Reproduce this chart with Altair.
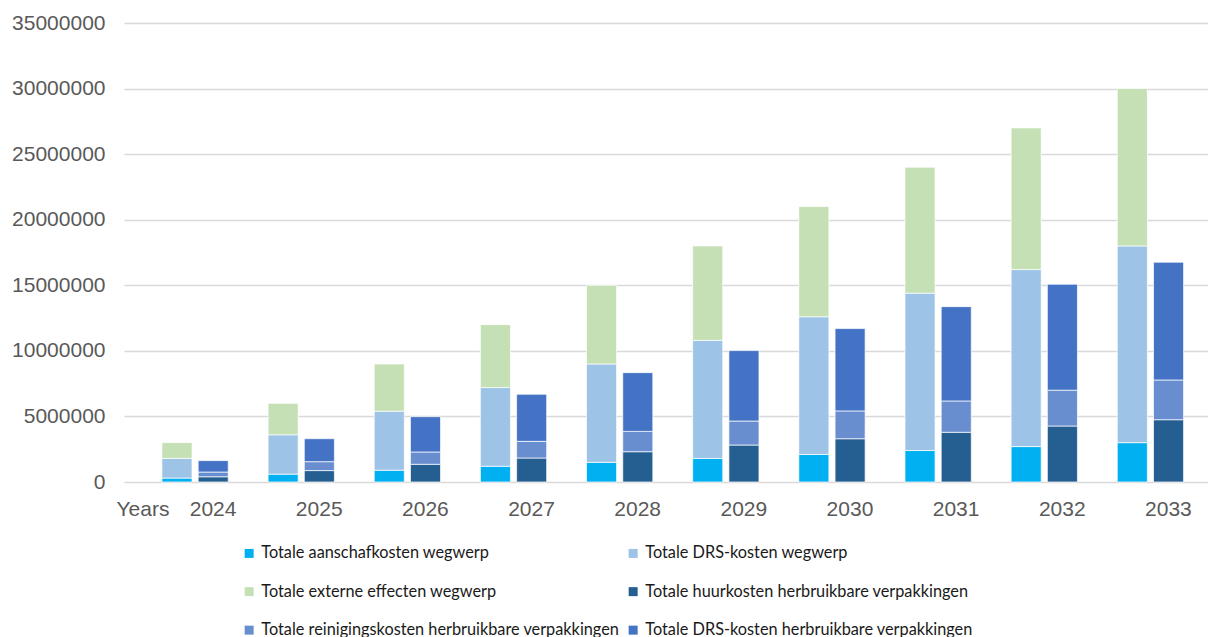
import altair as alt
import pandas as pd

# Yearly cost components (euro)
years = ["2024", "2025", "2026", "2027", "2028", "2029", "2030", "2031", "2032", "2033"]

aanschaf_wegwerp = [300000, 600000, 900000, 1200000, 1500000, 1800000, 2100000, 2400000, 2700000, 3000000]
drs_wegwerp = [1500000, 3000000, 4500000, 6000000, 7500000, 9000000, 10500000, 12000000, 13500000, 15000000]
extern_wegwerp = [1200000, 2400000, 3600000, 4800000, 6000000, 7200000, 8400000, 9600000, 10800000, 12000000]

huur_herbruik = [400000, 870000, 1350000, 1830000, 2310000, 2820000, 3300000, 3790000, 4270000, 4750000]
reiniging_herbruik = [360000, 680000, 940000, 1270000, 1550000, 1830000, 2120000, 2390000, 2730000, 3030000]
drs_herbruik = [870000, 1750000, 2690000, 3590000, 4480000, 5370000, 6280000, 7190000, 8080000, 8980000]

series_names = [
    "Totale aanschafkosten wegwerp",
    "Totale DRS-kosten wegwerp",
    "Totale externe effecten wegwerp",
    "Totale huurkosten herbruikbare verpakkingen",
    "Totale reinigingskosten herbruikbare verpakkingen",
    "Totale DRS-kosten herbruikbare verpakkingen",
]
series_colors = ["#00B0F0", "#9DC3E6", "#C5E0B4", "#255E91", "#698ED0", "#4472C4"]

# (series name, bar group, stack position, values)
series = [
    (series_names[0], "wegwerp", 0, aanschaf_wegwerp),
    (series_names[1], "wegwerp", 1, drs_wegwerp),
    (series_names[2], "wegwerp", 2, extern_wegwerp),
    (series_names[3], "herbruikbaar", 0, huur_herbruik),
    (series_names[4], "herbruikbaar", 1, reiniging_herbruik),
    (series_names[5], "herbruikbaar", 2, drs_herbruik),
]

rows = []
for name, group, pos, vals in series:
    for y, v in zip(years, vals):
        rows.append({"year": y, "group": group, "series": name, "pos": pos, "value": v})
df = pd.DataFrame(rows)

axis_font = "Liberation Sans"
axis_color = "#595959"

chart = (
    alt.Chart(df)
    .mark_bar(stroke="#ffffff", strokeWidth=0.7)
    .encode(
        x=alt.X(
            "year:N",
            sort=years,
            scale=alt.Scale(paddingInner=0, paddingOuter=0.106, align=0.8),
            axis=alt.Axis(
                title="Years",
                titleX=18.5,
                titleY=16,
                titleAlign="center",
                titleBaseline="top",
                titleFont=axis_font,
                titleFontSize=21,
                titleFontWeight="normal",
                titleColor=axis_color,
                labelAngle=0,
                labelOffset=18,
                labelPadding=16,
                labelFont=axis_font,
                labelFontSize=21,
                labelColor=axis_color,
                ticks=False,
                domain=False,
                grid=False,
            ),
        ),
        xOffset=alt.XOffset(
            "group:N",
            sort=["wegwerp", "herbruikbaar"],
            scale=alt.Scale(paddingInner=0.17, paddingOuter=0.55),
        ),
        y=alt.Y(
            "value:Q",
            stack="zero",
            scale=alt.Scale(domain=[0, 35000000]),
            axis=alt.Axis(
                title=None,
                values=[0, 5000000, 10000000, 15000000, 20000000, 25000000, 30000000, 35000000],
                format="d",
                labelFont=axis_font,
                labelFontSize=21,
                labelColor=axis_color,
                labelPadding=19,
                ticks=False,
                domain=False,
                gridColor="#D9D9D9",
                gridWidth=1.4,
            ),
        ),
        order=alt.Order("pos:Q", sort="ascending"),
        color=alt.Color(
            "series:N",
            scale=alt.Scale(domain=series_names, range=series_colors),
            legend=alt.Legend(
                title=None,
                orient="none",
                legendX=117,
                legendY=522,
                columns=2,
                direction="horizontal",
                symbolType="square",
                symbolSize=81,
                symbolStrokeWidth=0,
                labelFont="Lato",
                labelFontSize=16.3,
                labelColor="#1a1a1a",
                labelOffset=4,
                labelLimit=500,
                columnPadding=5,
                rowPadding=21.5,
                gridAlign="each",
            ),
        ),
    )
    .properties(
        width=1084,
        height=459,
        background="#ffffff",
        padding={"left": 11, "top": 12, "right": 0, "bottom": 0},
    )
    .configure_view(stroke=None)
)

chart.save("out.html", embed_options={"renderer": "svg", "actions": False})
